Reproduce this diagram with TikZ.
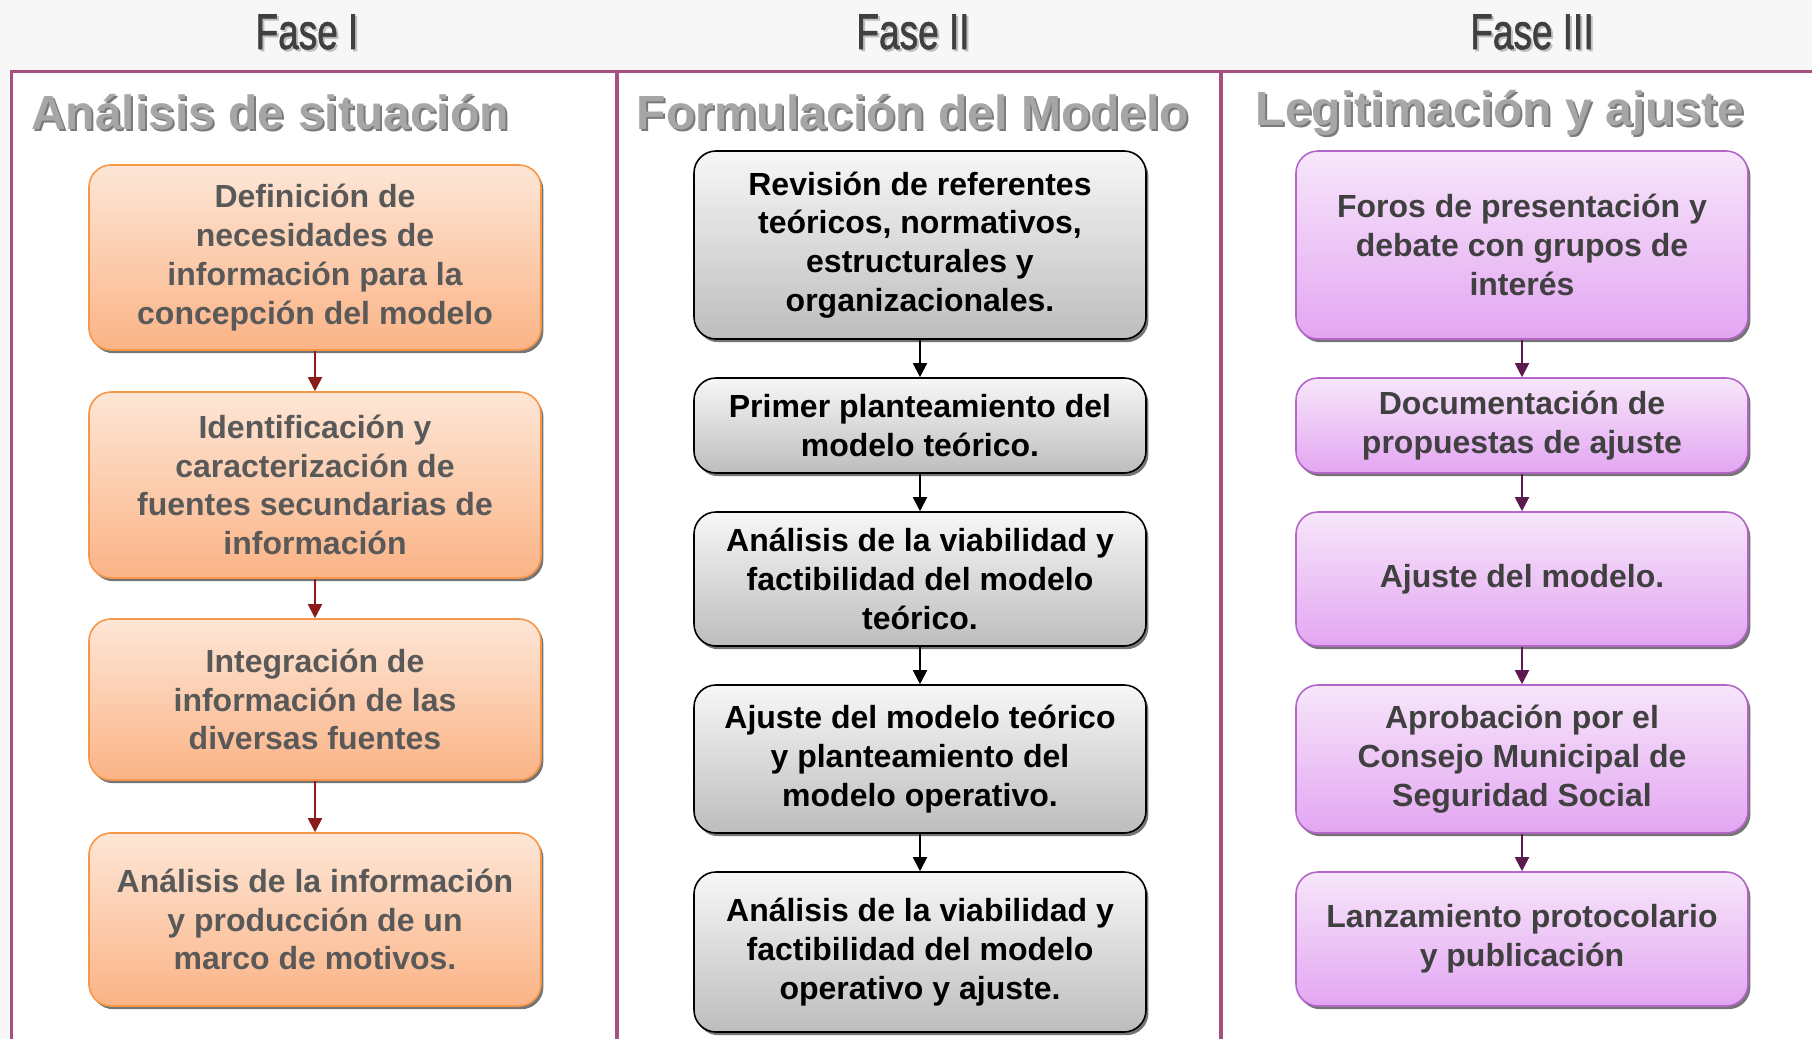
\documentclass[tikz,border=0pt]{standalone}
\usepackage{fontspec}
\setmainfont{Liberation Sans}
\newfontfamily\fasefont[FakeBold=1.5]{Liberation Sans}
\usetikzlibrary{shadows,arrows.meta}
\definecolor{frameC}{HTML}{A5507F}
\definecolor{oTop}{HTML}{FDE6D6}
\definecolor{oBot}{HTML}{FBB386}
\definecolor{oLine}{HTML}{F79646}
\definecolor{oText}{HTML}{595959}
\definecolor{gTop}{HTML}{F7F7F7}
\definecolor{gBot}{HTML}{BDBDBD}
\definecolor{pTop}{HTML}{F7E6FA}
\definecolor{pBot}{HTML}{E3A6F2}
\definecolor{pLine}{HTML}{B366C8}
\definecolor{pText}{HTML}{404040}
\definecolor{oArrow}{HTML}{8B1A1A}
\definecolor{pArrow}{HTML}{5C1A4E}
\definecolor{titleC}{HTML}{A6A6A6}
\definecolor{titleS}{HTML}{7A7A7A}
\definecolor{faseC}{HTML}{404040}
\definecolor{bgC}{HTML}{F7F7F7}
\tikzset{
  basebox/.style={rounded corners=11pt, minimum width=226pt, inner sep=0pt, align=center,
    font=\fontsize{16}{19.4}\selectfont\bfseries, line width=0.8pt,
    drop shadow={shadow xshift=1.2pt, shadow yshift=-1.6pt, fill=black!60, opacity=0.9}},
  obox/.style={basebox, draw=oLine, top color=oTop, bottom color=oBot, text=oText},
  gbox/.style={basebox, draw=black, top color=gTop, bottom color=gBot, text=black},
  pbox/.style={basebox, draw=pLine, top color=pTop, bottom color=pBot, text=pText},
  oarr/.style={draw=oArrow, line width=1pt, -{Triangle[length=7pt,width=7pt]}},
  garr/.style={draw=black, line width=1pt, -{Triangle[length=7pt,width=7pt]}},
  parr/.style={draw=pArrow, line width=1pt, -{Triangle[length=7pt,width=7pt]}},
  sectitle/.style={font=\fontsize{24}{28}\selectfont\bfseries, inner sep=0pt},
  fasetitle/.style={font=\fontsize{25}{28}\selectfont\fasefont, inner sep=0pt},
}
\begin{document}
\begin{tikzpicture}[x=0.5pt,y=-0.5pt]
\useasboundingbox (0,0) rectangle (1812,1039);
\fill[bgC] (0,0) rectangle (1812,1039);
\fill[white] (11.5,71.6) rectangle (1812,1039);
% frame
\draw[frameC, line width=1.6pt] (11.5,1039) -- (11.5,71.6) -- (1812,71.6);
\draw[frameC, line width=1.6pt] (617,71.6) -- (617,1039);
\draw[frameC, line width=1.6pt] (1221,71.6) -- (1221,1039);
% phase headings
\node[fasetitle, text=black!25] (f1s) at (309,34) {\scalebox{0.74}[1]{Fase I}};
\node[fasetitle, text=faseC] (f1) at (307,32) {\scalebox{0.74}[1]{Fase I}};
\node[fasetitle, text=black!25] (f2s) at (915,34) {\scalebox{0.74}[1]{Fase II}};
\node[fasetitle, text=faseC] (f2) at (913,32) {\scalebox{0.74}[1]{Fase II}};
\node[fasetitle, text=black!25] (f3s) at (1534,34) {\scalebox{0.74}[1]{Fase III}};
\node[fasetitle, text=faseC] (f3) at (1532,32) {\scalebox{0.74}[1]{Fase III}};
% section titles
\node[sectitle, text=titleS] (t1s) at (272,114) {Análisis de situación};
\node[sectitle, text=titleC] (t1) at (270,112) {Análisis de situación};
\node[sectitle, text=titleS] (t2s) at (915,114) {Formulación del Modelo};
\node[sectitle, text=titleC] (t2) at (913,112) {Formulación del Modelo};
\node[sectitle, text=titleS] (t3s) at (1502,115) {Legitimación y ajuste};
\node[sectitle, text=titleC] (t3) at (1500,113) {Legitimación y ajuste};
% column 1
\node[obox, minimum height=92.5pt] (a1) at (315,257.5) {Definición de\\necesidades de\\información para la\\concepción del modelo};
\node[obox, minimum height=93pt] (a2) at (315,485) {Identificación y\\caracterización de\\fuentes secundarias de\\información};
\node[obox, minimum height=80.5pt] (a3) at (315,699.5) {Integración de\\información de las\\diversas fuentes};
\node[obox, minimum height=86.5pt] (a4) at (315,919.5) {Análisis de la información\\y producción de un\\marco de motivos.};
\draw[oarr] (a1.south) -- (a2.north);
\draw[oarr] (a2.south) -- (a3.north);
\draw[oarr] (a3.south) -- (a4.north);
% column 2
\node[gbox, minimum height=94pt] (b1) at (920,245) {Revisión de referentes\\teóricos, normativos,\\estructurales y\\organizacionales.};
\node[gbox, minimum height=47.5pt] (b2) at (920,425.5) {Primer planteamiento del\\modelo teórico.};
\node[gbox, minimum height=67pt] (b3) at (920,579) {Análisis de la viabilidad y\\factibilidad del modelo\\teórico.};
\node[gbox, minimum height=74pt] (b4) at (920,759) {Ajuste del modelo teórico\\y planteamiento del\\modelo operativo.};
\node[gbox, minimum height=80pt] (b5) at (920,952) {Análisis de la viabilidad y\\factibilidad del modelo\\operativo y ajuste.};
\draw[garr] (b1.south) -- (b2.north);
\draw[garr] (b2.south) -- (b3.north);
\draw[garr] (b3.south) -- (b4.north);
\draw[garr] (b4.south) -- (b5.north);
% column 3
\node[pbox, minimum height=94pt] (c1) at (1522,245) {Foros de presentación y\\debate con grupos de\\interés};
\node[pbox, minimum height=47.5pt] (c2) at (1522,425.5) {Documentación de\\propuestas de ajuste};
\node[pbox, minimum height=67pt] (c3) at (1522,579) {Ajuste del modelo.};
\node[pbox, minimum height=74pt] (c4) at (1522,759) {Aprobación por el\\Consejo Municipal de\\Seguridad Social};
\node[pbox, minimum height=67pt] (c5) at (1522,939) {Lanzamiento protocolario\\y publicación};
\draw[parr] (c1.south) -- (c2.north);
\draw[parr] (c2.south) -- (c3.north);
\draw[parr] (c3.south) -- (c4.north);
\draw[parr] (c4.south) -- (c5.north);
\end{tikzpicture}
\end{document}
